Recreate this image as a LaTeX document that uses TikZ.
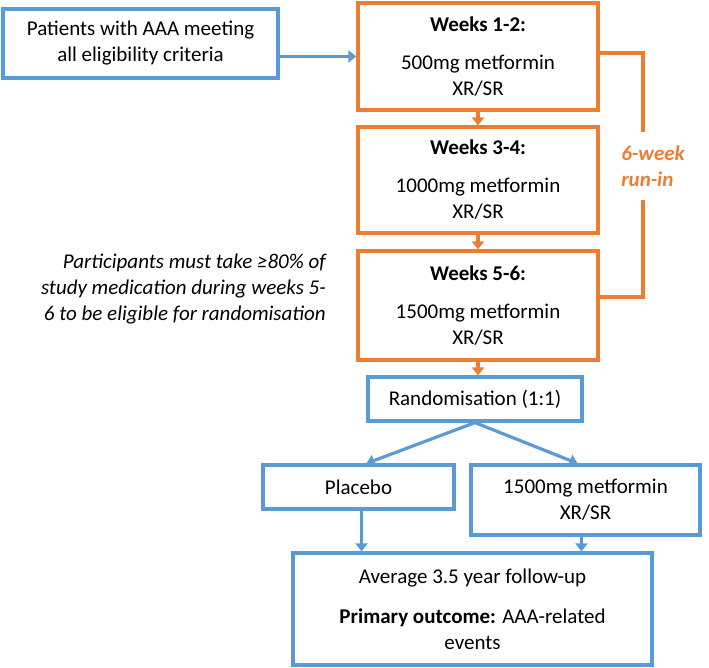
\documentclass[tikz,border=0pt]{standalone}
\usepackage{fontspec}
\setmainfont{Carlito}
\usetikzlibrary{arrows.meta,calc}
\definecolor{boxblue}{RGB}{91,155,213}
\definecolor{runorange}{RGB}{237,125,49}

\tikzset{
  bluebox/.style={draw=boxblue, line width=3.2pt, align=center, inner sep=0pt},
  orangebox/.style={draw=runorange, line width=3.2pt, align=center, inner sep=0pt,
    minimum width=240pt},
  bluearrow/.style={draw=boxblue, line width=3.2pt, -{Triangle[width=12pt,length=8pt]}, boxblue},
  orangearrow/.style={draw=runorange, line width=3.2pt, -{Triangle[width=12pt,length=8pt]}, runorange},
  runline/.style={draw=runorange, line width=3.2pt}
}

\begin{document}
\begin{tikzpicture}[x=1pt, y=-1pt, font=\fontsize{21}{26}\selectfont]
  \useasboundingbox (0,0) rectangle (709,668);

  %%%%% boxes %%%%%
  \node[bluebox, minimum width=275pt, minimum height=69pt] (patients) at (140.5,43.5)
    {Patients with AAA meeting\\all eligibility criteria};

  \node[orangebox, minimum height=107pt] (w12) at (478,56.5)
    {\textbf{Weeks 1-2:}\\[12pt]500mg metformin\\XR/SR};
  \node[orangebox, minimum height=106pt] (w34) at (478,180)
    {\textbf{Weeks 3-4:}\\[12pt]1000mg metformin\\XR/SR};
  \node[orangebox, minimum height=109pt] (w56) at (478,305.5)
    {\textbf{Weeks 5-6:}\\[12pt]1500mg metformin\\XR/SR};

  \node[bluebox, minimum width=214pt, minimum height=44pt] (rand) at (475,399)
    {Randomisation (1:1)};
  \node[bluebox, minimum width=191pt, minimum height=44pt] (placebo) at (358.5,487)
    {Placebo};
  \node[bluebox, minimum width=229pt, minimum height=70pt] (metf) at (585.5,500)
    {1500mg metformin\\XR/SR};
  \node[bluebox, minimum width=359pt, minimum height=112pt] (final) at (472.5,609)
    {Average 3.5 year follow-up\\[14pt]\textbf{Primary outcome:} AAA-related\\events};

  %%%%% side notes %%%%%
  \node[anchor=east, align=right, inner sep=0pt, font=\fontsize{21}{26}\selectfont\itshape] (note) at (326,289)
    {Participants must take ≥80\% of\\study medication during weeks 5-\\6 to be eligible for randomisation};
  \node[align=left, inner sep=0pt, text=runorange, font=\fontsize{21}{26}\selectfont\bfseries\itshape] (runin) at (653,166)
    {6-week\\run-in};

  %%%%% run-in bracket %%%%%
  \coordinate (bt) at (643,53);
  \coordinate (bm1) at (643,132);
  \coordinate (bm2) at (643,200);
  \coordinate (bb) at (643,297);
  \draw[runline] (w12.east |- bt) -- (bt) -- (bm1);
  \draw[runline] (bm2) -- (bb) -- (w56.east |- bb);

  %%%%% arrows %%%%%
  \draw[bluearrow] (patients.east |- w12.west) -- (w12.west);
  \draw[orangearrow] (w12.south) -- (w34.north);
  \draw[orangearrow] (w34.south) -- (w56.north);
  \draw[orangearrow] (w56.south) -- (w56.south |- rand.north);

  \draw[bluearrow] (rand.south) -- ($(placebo.north)+(8,0)$);
  \draw[bluearrow] (rand.south) -- ($(metf.north)+(-8,0)$);
  \draw[bluearrow] ($(placebo.south)+(3,0)$) -- ($(placebo.south |- final.north)+(3,0)$);
  \draw[bluearrow] ($(metf.south)+(-4,0)$) -- ($(metf.south |- final.north)+(-4,0)$);
\end{tikzpicture}
\end{document}
